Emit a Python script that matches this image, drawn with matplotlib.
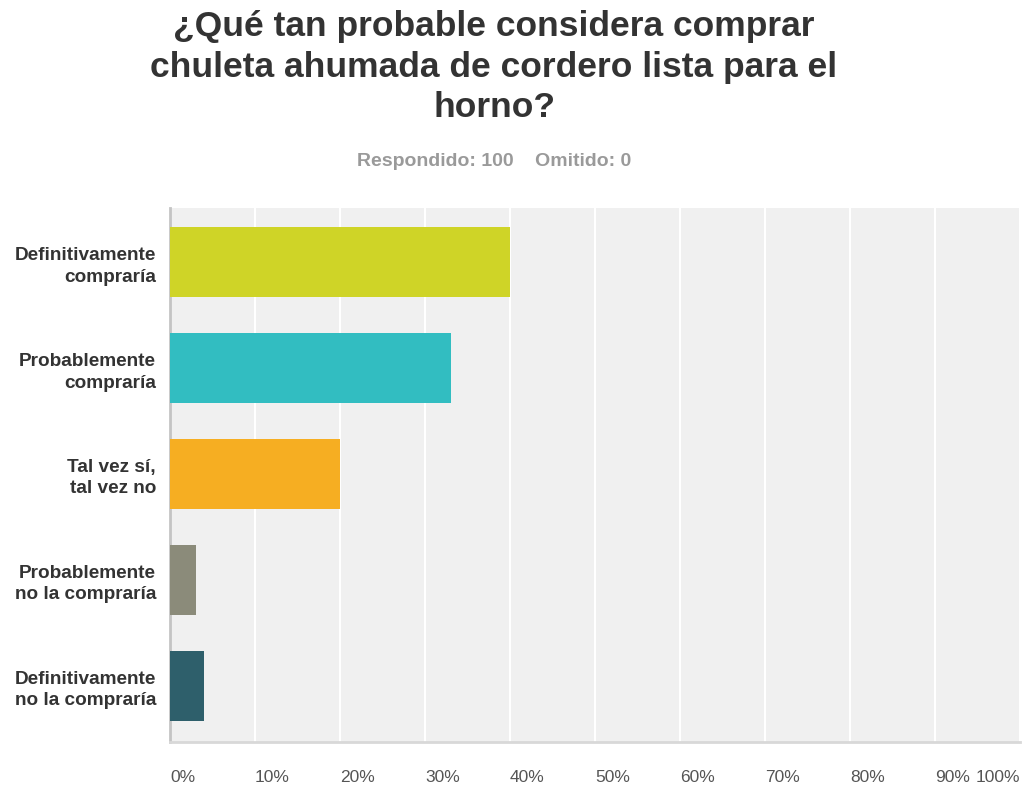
import matplotlib
matplotlib.use("Agg")
import matplotlib.pyplot as plt

categories = ["Definitivamente\ncompraría", "Probablemente\ncompraría", "Tal vez sí,\ntal vez no",
              "Probablemente\nno la compraría", "Definitivamente\nno la compraría"]
values = [40, 33, 20, 3, 4]
colors = ["#cfd427", "#32bdc1", "#f6ae22", "#8b8b7a", "#2e5f6b"]
xticks = [0, 10, 20, 30, 40, 50, 60, 70, 80, 90, 100]
xtick_labels = ["0%", "10%", "20%", "30%", "40%", "50%", "60%", "70%", "80%", "90%", "100%"]

plt.rcParams['font.family'] = ['Liberation Sans', 'DejaVu Sans']

W, H = 1023, 785
fig = plt.figure(figsize=(W/100, H/100), dpi=100)
ax = fig.add_axes([170/W, 1 - 742/H, 850/W, (742-208)/H])
ax.set_facecolor("#f0f0f0")

y = list(range(len(categories)))
ax.barh(y, values, height=0.66, color=colors, zorder=3)
ax.set_xlim(0, 100)
ax.set_ylim(4.53, -0.51)

for t in xticks:
    ax.axvline(t, color="white", lw=1.5, zorder=1)

for s in ["top", "right"]:
    ax.spines[s].set_visible(False)
ax.spines["left"].set_color("#c4c4c4")
ax.spines["left"].set_linewidth(2)
ax.spines["bottom"].set_color("#d8d8d8")
ax.spines["bottom"].set_linewidth(2)

ax.set_yticks(y)
ax.set_yticklabels(categories, fontsize=13.7, fontweight="bold", color="#333333", linespacing=1.35)
ax.tick_params(axis="y", length=0, pad=10)

ax.set_xticks(xticks)
ax.set_xticklabels(xtick_labels, fontsize=12.5, color="#555555")
ax.tick_params(axis="x", length=0, pad=20)
for i, lab in enumerate(ax.get_xticklabels()):
    lab.set_ha("right" if i == len(xticks) - 1 else "left")

fig.text(494/W, 1 - 67/H, "¿Qué tan probable considera comprar\nchuleta ahumada de cordero lista para el\nhorno?",
         ha="center", va="center", fontsize=25.5, fontweight="bold", color="#333333", linespacing=1.3)
fig.text(494/W, 1 - 162/H, "Respondido: 100    Omitido: 0", ha="center", va="center",
         fontsize=14, fontweight="bold", color="#9a9a9a")

fig.savefig("out.png", dpi=100)
